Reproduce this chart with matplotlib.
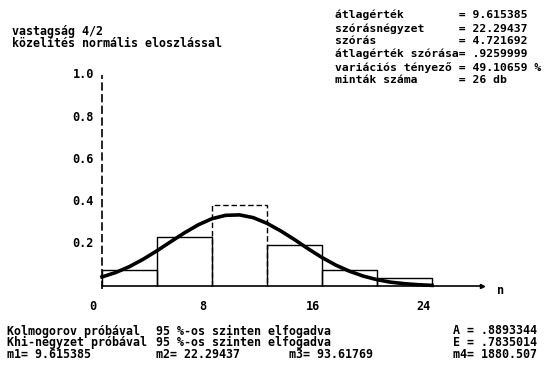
import matplotlib
matplotlib.use("Agg")
import matplotlib.pyplot as plt

# ---- data ----
bin_edges = [0, 4, 8, 12, 16, 20, 24]
rel_freq = [0.077, 0.231, 0.385, 0.192, 0.077, 0.038]
dashed_bins = [2]
curve_x = [0, 1, 2, 3, 4, 5, 6, 7, 8, 9, 10, 11, 12, 13, 14, 15, 16, 17, 18,
           19, 20, 21, 22, 23, 24]
curve_y = [0.043, 0.064, 0.092, 0.127, 0.167, 0.210, 0.252, 0.290, 0.319,
           0.335, 0.337, 0.324, 0.297, 0.261, 0.220, 0.176, 0.135, 0.099,
           0.070, 0.047, 0.030, 0.018, 0.011, 0.006, 0.003]
x_ticks = [0, 8, 16, 24]
y_ticks = [0.2, 0.4, 0.6, 0.8, 1.0]
title_lines = ["vastagság 4/2", "közelítés normális eloszlással"]
stat_labels = ["átlagérték", "szórásnégyzet", "szórás",
               "átlagérték szórása", "variációs tényező", "minták száma"]
stat_values = ["9.615385", "22.29437", "4.721692", ".9259999",
               "49.10659 %", "26 db"]
test_lines = ["Kolmogorov próbával", "Khi-négyzet próbával"]
test_result = "95 %-os szinten elfogadva"
shape_labels = ["A", "E"]
shape_values = [".8893344", ".7835014"]
moment_labels = ["m1=", "m2=", "m3=", "m4="]
moment_values = ["9.615385", "22.29437", "93.61769", "1880.507"]

W, H = 547, 367
fig = plt.figure(figsize=(W / 100, H / 100), dpi=100)
fig.patch.set_facecolor("white")
renderer = fig.canvas.get_renderer()

BASE = dict(family="DejaVu Sans Mono", weight="bold", color="black")


def block(x, y_first, lines, size, step_px):
    """Multi-line text block; first line centred at y_first px, rows step_px apart."""
    one = fig.text(0, 0, "Ag", size=size, linespacing=1.0, **BASE)
    two = fig.text(0, 0, "Ag\nAg", size=size, linespacing=1.0, **BASE)
    h1 = one.get_window_extent(renderer).height
    h2 = two.get_window_extent(renderer).height
    one.remove()
    two.remove()
    ls = step_px / (h2 - h1)
    fig.text(x / W, 1 - (y_first - h1 / 2) / H, "\n".join(lines), va="top",
             ha="left", size=size, linespacing=ls, **BASE)


# axes placement: x=0 at px 102, 13.75 px per unit; y=0 at px 286, 211 px per unit
x0_px, xu = 102, 13.75
y0_px, yu = 286, 211
xmax, ymax = 28.2, 1.03
ax = fig.add_axes([x0_px / W, (H - y0_px) / H, xmax * xu / W, ymax * yu / H])
ax.set_xlim(0, xmax)
ax.set_ylim(0, ymax)
ax.axis("off")

# histogram bars (outlines)
for i in range(len(rel_freq)):
    left, right = bin_edges[i], bin_edges[i + 1]
    ls = (0, (4, 2)) if i in dashed_bins else "-"
    ax.plot([left, left, right, right], [0, rel_freq[i], rel_freq[i], 0],
            color="black", lw=1.0, ls=ls, solid_capstyle="butt", clip_on=False)

# fitted normal curve
ax.plot(curve_x, curve_y, color="black", lw=2.6, solid_joinstyle="round",
        clip_on=False, zorder=5)

# axes
ax.plot([0, 0], [-0.012, 1.0], color="black", lw=1.2, ls=(0, (5, 2)), clip_on=False)
ax.plot([0, 27.6], [0, 0], color="black", lw=1.2, clip_on=False)
ax.plot([27.6], [0], marker=">", color="black", ms=3, clip_on=False)
ax.text(28.7, -0.02, "n", ha="left", va="center", size=8.6, **BASE)

for t in x_ticks:
    ax.text(t - 0.65, -0.095, str(t), ha="center", va="center", size=8.6, **BASE)
for t in y_ticks:
    ax.text(-0.6, t, f"{t:.1f}", ha="right", va="center", size=8.6, **BASE)

# top-left title
block(12, 32, title_lines, 8.4, 11.5)

# top-right statistics (monospace columns, '=' after 18 characters)
stat_rows = []
for lab, val in zip(stat_labels, stat_values):
    if len(lab) >= 18:
        stat_rows.append(lab + "= " + val)
    else:
        stat_rows.append(lab.ljust(18) + "= " + val)
block(335, 15, stat_rows, 8.2, 13)

# bottom text
step = 11.3
block(7, 331, test_lines + [moment_labels[0] + " " + moment_values[0]], 8.4, step)
col2 = [test_result, test_result,
        (moment_labels[1] + " " + moment_values[1]).ljust(19)
        + moment_labels[2] + " " + moment_values[2]]
block(156, 331, col2, 8.4, step)
col4 = [shape_labels[0] + " = " + shape_values[0],
        shape_labels[1] + " = " + shape_values[1],
        moment_labels[3] + " " + moment_values[3]]
block(453, 331, col4, 8.4, step)

fig.savefig("out.png", dpi=100, facecolor="white")
